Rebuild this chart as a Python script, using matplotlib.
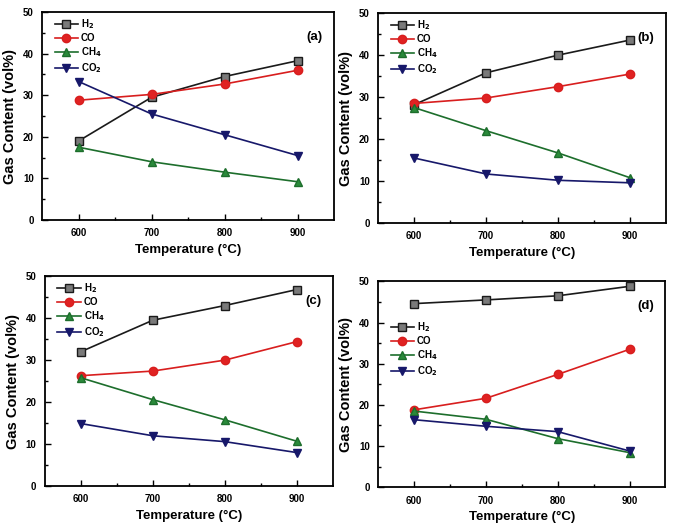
import numpy as np
import matplotlib.pyplot as plt

plt.rcParams['font.family'] = ['Liberation Sans', 'DejaVu Sans']
plt.rcParams['font.weight'] = 'bold'

temperature = [600, 700, 800, 900]
series_names = ['H$_2$', 'CO', 'CH$_4$', 'CO$_2$']

h2_a = [19.0, 29.5, 34.5, 38.3]
co_a = [28.8, 30.2, 32.7, 36.0]
ch4_a = [17.5, 14.0, 11.5, 9.2]
co2_a = [33.3, 25.5, 20.5, 15.5]

h2_b = [28.2, 35.8, 40.0, 43.6]
co_b = [28.5, 29.8, 32.5, 35.5]
ch4_b = [27.5, 22.0, 16.7, 10.8]
co2_b = [15.5, 11.7, 10.2, 9.6]

h2_c = [32.0, 39.5, 43.0, 46.8]
co_c = [26.3, 27.4, 30.0, 34.4]
ch4_c = [25.8, 20.6, 15.8, 10.7]
co2_c = [14.9, 12.0, 10.6, 8.0]

h2_d = [44.6, 45.5, 46.5, 48.8]
co_d = [18.8, 21.6, 27.4, 33.5]
ch4_d = [18.5, 16.5, 11.8, 8.4]
co2_d = [16.4, 14.8, 13.5, 8.8]

panels = {
    '(a)': [h2_a, co_a, ch4_a, co2_a],
    '(b)': [h2_b, co_b, ch4_b, co2_b],
    '(c)': [h2_c, co_c, ch4_c, co2_c],
    '(d)': [h2_d, co_d, ch4_d, co2_d],
}

# line color, marker, marker face
styles = [('#1a1a1a', 's', '#7a7a7a'),
          ('#d81e1e', 'o', '#e02222'),
          ('#1d6e2c', '^', '#2a8a3a'),
          ('#17186a', 'v', '#17186a')]

# axes rectangles in figure fractions
rects = {
    '(a)': [0.062, 0.581, 0.430, 0.396],
    '(b)': [0.557, 0.575, 0.424, 0.400],
    '(c)': [0.066, 0.074, 0.424, 0.400],
    '(d)': [0.557, 0.072, 0.423, 0.392],
}

fig = plt.figure(figsize=(6.79, 5.25), dpi=100)

for tag, data in panels.items():
    ax = fig.add_axes(rects[tag])
    for name, vals, (lc, mk, fc) in zip(series_names, data, styles):
        ax.plot(temperature, vals, color=lc, marker=mk, markerfacecolor=fc,
                markeredgecolor=lc, markersize=6, lw=1.2, label=name)
    ax.set_xlim(550, 950)
    ax.set_ylim(0, 50)
    ax.set_xticks(temperature)
    ax.set_xticks([650, 750, 850], minor=True)
    ax.set_yticks([0, 10, 20, 30, 40, 50])
    ax.set_yticks([5, 15, 25, 35, 45], minor=True)
    ax.tick_params(direction='in', labelsize=7, length=4, width=1, pad=6)
    ax.tick_params(which='minor', direction='in', length=2.5, width=1)
    for lab in ax.get_xticklabels() + ax.get_yticklabels():
        lab.set_fontweight('bold')
    for s in ax.spines.values():
        s.set_linewidth(1.3)
    ax.set_xlabel('Temperature (°C)', fontsize=9.5, fontweight='bold', labelpad=4)
    ax.set_ylabel('Gas Content (vol%)', fontsize=10.5, fontweight='bold', labelpad=4)
    ax.text(0.96, 0.91, tag, transform=ax.transAxes, ha='right', va='top',
            fontsize=9.5, fontweight='bold')
    top = 0.83 if tag == '(d)' else 0.995
    ax.legend(loc='upper left', bbox_to_anchor=(0.03, top), frameon=False,
              prop={'size': 7, 'weight': 'bold'}, handlelength=2.4,
              labelspacing=0.22, borderaxespad=0.2, handletextpad=0.3,
              borderpad=0.2)

fig.savefig('out.png', dpi=100)
